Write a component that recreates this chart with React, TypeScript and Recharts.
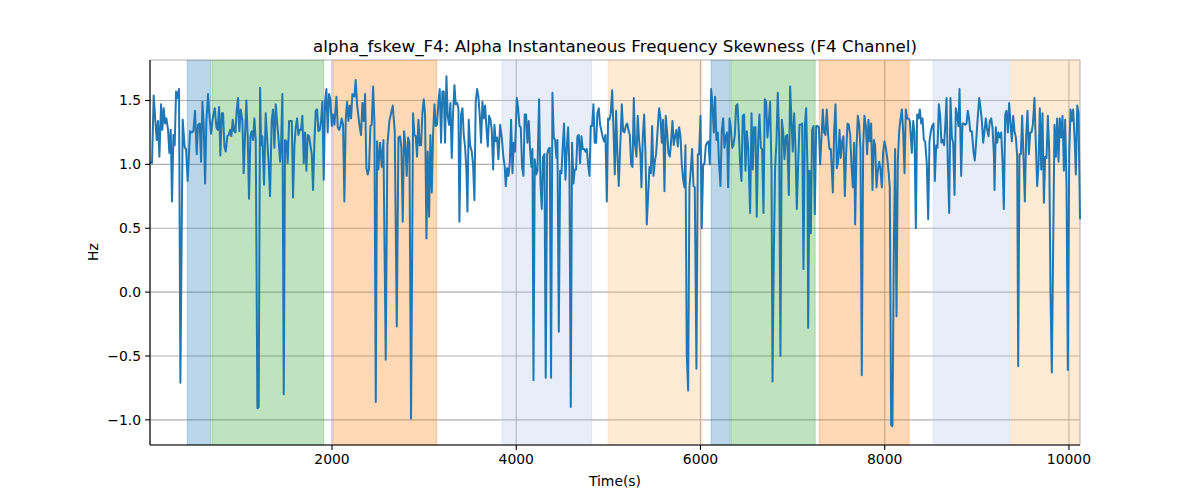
import React from 'react';
import { LineChart, Line, XAxis, YAxis, CartesianGrid, ReferenceArea } from 'recharts';

// [time (s), skewness (Hz)], split by stretch of time
const seg1: [number, number][] = [
  [24, 1.02], [46, 1.01], [64, 1.54], [82, 1.34], [97, 1.19], [111, 1.34], [126, 1.06], [144, 1.47], [158, 1.27], [173, 1.44],
  [187, 1.32], [202, 1.36], [220, 1.27], [234, 1.09], [249, 1.27], [263, 0.71], [278, 1.23], [292, 1.15], [307, 1.57], [321, 1.52],
  [339, 1.59], [354, -0.71], [379, 1.35], [401, 1.13], [415, 1.12], [433, 0.87], [459, 1.26], [477, 1.25], [495, 1.26], [513, 1.42],
  [531, 1.08], [546, 1.31], [564, 1.32], [578, 1.02], [593, 1.49], [607, 1.31], [622, 0.85], [636, 1.34], [654, 1.55], [669, 1.38],
  [687, 1.24], [705, 1.36], [727, 1.44], [745, 1.29], [759, 1.27], [774, 1.45], [788, 1.07], [803, 1.40], [817, 1.40], [832, 1.14],
  [846, 1.10], [864, 1.22], [879, 1.23], [893, 1.27], [908, 1.22], [922, 1.35], [937, 1.26], [951, 1.25], [965, 1.42], [980, 1.52],
  [994, 1.26], [1009, 1.43], [1027, 1.34], [1041, 0.93], [1056, 1.23], [1070, 1.50], [1085, 1.21], [1099, 0.73], [1114, 1.22], [1128, 1.26],
  [1143, 1.19], [1157, 1.36], [1172, 1.19], [1190, -0.91], [1204, -0.90], [1219, 1.60],
];

const seg2: [number, number][] = [
  [1230, 1.15], [1244, 1.22], [1262, 0.84], [1280, 1.40], [1298, 1.17], [1313, 1.00], [1327, 0.75], [1345, 1.34], [1360, 1.43], [1374, 1.13],
  [1389, 1.47], [1407, 1.30], [1421, 1.19], [1436, 1.02], [1447, 1.15], [1461, 1.55], [1476, -0.80], [1490, 1.19], [1505, 1.18], [1519, 1.01],
  [1534, 1.34], [1548, 1.34], [1563, 1.34], [1577, 0.74], [1592, 1.15], [1606, 1.29], [1621, 1.36], [1635, 1.23], [1649, 1.27], [1664, 1.27],
  [1678, 1.38], [1693, 1.01], [1707, 1.25], [1722, 0.95], [1736, 1.23], [1751, 1.22], [1765, 1.15], [1780, 1.08], [1794, 0.80], [1809, 1.18],
  [1823, 1.42], [1838, 1.43], [1852, 1.26], [1867, 1.27], [1881, 1.34], [1896, 1.49], [1910, 0.88], [1925, 1.49], [1939, 1.59], [1953, 1.25],
  [1968, 1.55], [1982, 1.51], [1997, 1.30], [2011, 1.39], [2026, 1.31], [2048, 1.53], [2062, 1.29], [2077, 1.27], [2091, 1.30], [2105, 1.36],
  [2120, 1.31], [2134, 0.71], [2149, 1.35], [2163, 1.49], [2178, 1.34], [2192, 1.46], [2207, 1.36], [2221, 1.55], [2243, 1.53], [2257, 1.66],
  [2272, 1.47], [2286, 1.38], [2301, 1.29], [2315, 1.23], [2330, 1.48], [2344, 1.34], [2359, 1.55], [2373, 0.97], [2388, 0.92], [2402, 0.97],
  [2417, 1.30], [2431, 1.31], [2446, 1.61], [2460, 1.34], [2475, -0.86], [2489, 1.18], [2503, 0.96],
];

const seg3: [number, number][] = [
  [2522, 1.17], [2540, 0.98], [2558, 1.19], [2583, -0.53], [2601, 1.15], [2623, 1.34], [2659, 1.46], [2681, 1.26], [2703, -0.27], [2721, 1.21],
  [2739, 1.22], [2753, 1.13], [2768, 0.55], [2782, 1.26], [2797, 1.15], [2811, 0.91], [2826, 1.21], [2840, 1.17], [2858, -0.99], [2880, 1.40],
  [2894, 1.23], [2909, 1.22], [2923, 1.06], [2938, 1.35], [2952, 1.15], [2967, 1.15], [2981, 1.40], [2996, 1.51], [3010, 1.39], [3025, 0.42],
  [3039, 1.10], [3054, 0.59], [3068, 1.23], [3083, 0.78], [3097, 1.23], [3112, 1.47], [3126, 1.30], [3140, 1.31], [3155, 1.49], [3169, 1.59],
  [3184, 1.17], [3198, 1.57], [3213, 1.57], [3227, 1.17], [3242, 1.69], [3256, 1.38], [3271, 1.31], [3285, 1.48], [3300, 1.05], [3314, 1.40],
  [3329, 1.62], [3343, 1.47], [3358, 1.48], [3372, 1.44], [3383, 0.55], [3401, 1.39], [3416, 1.44], [3430, 1.23], [3445, 1.13], [3459, 0.95],
  [3470, 0.63], [3484, 1.35], [3499, 1.15], [3517, 1.10], [3531, 1.00], [3546, 0.72], [3560, 1.49], [3575, 1.59], [3589, 1.53], [3604, 1.38],
  [3618, 1.17], [3633, 1.49], [3647, 1.36], [3662, 1.46], [3676, 1.29], [3691, 1.14], [3705, 1.38], [3720, 1.35], [3734, 1.27], [3749, 0.96],
  [3763, 1.31], [3777, 1.18], [3792, 1.21], [3806, 1.04],
];

const seg4: [number, number][] = [
  [3825, 1.31], [3843, 1.21], [3861, 1.05], [3875, 0.98], [3886, 0.83], [3901, 0.97], [3915, 0.91], [3930, 1.01], [3944, 1.35], [3959, 0.93],
  [3973, 1.17], [3987, 1.10], [4006, 1.52], [4020, 1.44], [4035, 1.30], [4049, 1.29], [4063, 0.98], [4078, 0.91], [4092, 1.39], [4107, 1.39],
  [4121, 1.17], [4136, 1.34], [4150, 1.12], [4165, 0.98], [4176, 1.12], [4187, -0.69], [4201, 1.04], [4215, 0.92], [4230, 0.95], [4248, 1.51],
  [4263, 0.85], [4277, 0.65], [4291, 1.06], [4306, 1.08], [4320, -0.67], [4335, 1.08], [4349, 1.12], [4364, 1.13], [4378, -0.67], [4393, 1.56],
  [4407, 1.21], [4422, 1.19], [4436, 1.05], [4447, 1.19], [4462, -0.31], [4476, 0.95], [4491, 0.93], [4505, 1.15], [4519, 1.32], [4534, 0.88],
  [4548, 1.12], [4563, 1.29], [4577, 0.97], [4592, -0.90], [4606, 1.17], [4621, 0.85], [4635, 0.96], [4650, 0.96], [4664, 1.22], [4679, 1.23],
  [4693, 1.01], [4708, 1.22], [4722, 1.12], [4737, 1.12], [4751, 1.10], [4766, 1.12], [4780, 1.00], [4795, 0.91], [4809, 1.30], [4823, 1.30],
  [4838, 1.47], [4852, 1.17], [4867, 1.17], [4881, 1.40], [4896, 1.44], [4910, 1.31], [4925, 1.26], [4939, 1.21], [4954, 1.18], [4968, 1.23],
  [4983, 0.71], [4997, 1.36], [5012, 1.35], [5026, 1.40], [5041, 1.58], [5055, 1.29], [5070, 0.92], [5084, 1.42], [5098, 1.08], [5113, 0.83],
];

const seg5: [number, number][] = [
  [5146, 1.47], [5160, 1.26], [5175, 1.25], [5189, 1.30], [5204, 1.32], [5218, 1.27], [5233, 1.23], [5247, 1.00], [5262, 0.98], [5276, 1.52],
  [5290, 1.15], [5305, 1.06], [5319, 1.38], [5334, 1.18], [5348, 1.08], [5359, 0.82], [5374, 1.22], [5388, 1.39], [5403, 1.08], [5417, 0.53],
  [5432, 0.76], [5446, 0.98], [5461, 0.93], [5475, 1.30], [5490, 0.91], [5504, 1.02], [5518, 1.08], [5533, 1.25], [5551, 1.44], [5566, 1.36],
  [5580, 1.17], [5594, 1.35], [5609, 0.79], [5623, 1.38], [5638, 1.25], [5652, 1.09], [5667, 1.06], [5681, 1.18], [5696, 1.34], [5710, 1.15],
  [5725, 1.22], [5739, 1.27], [5754, 1.14], [5768, 1.29], [5783, 1.22], [5797, 1.00], [5812, 0.88], [5826, 0.82], [5837, 1.15], [5851, -0.49],
  [5866, -0.77], [5880, 0.82], [5895, 0.96], [5909, 1.12], [5924, 0.83], [5938, 0.82], [5956, -0.60], [5971, 1.08], [5985, 1.08], [6000, 1.38],
  [6014, 0.50], [6029, 1.00], [6043, 1.00], [6058, 1.15], [6072, 1.17], [6087, 1.18], [6101, 1.00], [6116, 1.59], [6130, 1.47], [6145, 1.25],
  [6159, 1.53], [6173, 1.19], [6188, 1.25], [6202, 1.00], [6217, 0.83], [6231, 1.26], [6246, 1.36], [6260, 1.13], [6275, 1.22], [6289, 1.25],
  [6300, 0.82], [6315, 1.36], [6329, 1.29], [6344, 1.13], [6358, 1.15], [6373, 1.23], [6387, 1.46], [6401, 1.47], [6416, 1.25],
];

const seg6: [number, number][] = [
  [6431, 1.00], [6445, 0.87], [6459, 1.38], [6474, 1.39], [6488, 0.95], [6503, 1.26], [6517, 1.14], [6539, 0.62], [6554, 1.40], [6568, 0.96],
  [6582, 1.29], [6597, 1.29], [6611, 0.59], [6626, 1.18], [6640, 1.39], [6655, 1.13], [6669, 1.12], [6684, 0.62], [6698, 1.51], [6713, 1.49],
  [6727, 1.21], [6742, 1.34], [6756, 1.49], [6771, 0.95], [6782, -0.70], [6796, 0.29], [6810, 0.97], [6825, 1.18], [6839, 1.56], [6854, 1.21],
  [6868, -0.50], [6883, 1.35], [6897, 1.26], [6912, 1.04], [6926, 1.22], [6941, 1.23], [6959, 0.76], [6973, 1.61], [6988, 1.34], [7002, 1.10],
  [7017, 1.40], [7031, 1.13], [7046, 0.65], [7060, 1.00], [7075, 1.31], [7089, 1.31], [7104, 1.32], [7118, 0.18], [7133, 1.30], [7147, 1.44],
  [7162, 0.95], [7169, -0.28], [7183, 0.95], [7198, 0.46], [7212, 1.27], [7227, 1.30], [7241, 0.61], [7256, 1.30], [7270, 1.30], [7285, 1.29],
  [7299, 1.00], [7314, 1.21], [7328, 1.43], [7342, 1.25], [7357, 1.23], [7371, 1.43], [7386, 1.23], [7400, 1.12], [7415, 1.12], [7437, 0.78],
  [7451, 1.26], [7466, 1.47], [7480, 0.97], [7494, 1.02], [7509, 1.27], [7523, 1.05], [7538, 1.18], [7552, 1.22], [7567, 0.75], [7581, 1.08],
  [7596, 1.32], [7610, 1.31], [7625, 1.23], [7639, 1.00], [7654, 0.82], [7668, 1.17], [7679, 0.53], [7694, 1.13], [7708, 1.38], [7722, 1.32],
  [7737, 1.12],
];

const seg7: [number, number][] = [
  [7751, -0.65], [7766, 1.15], [7780, 1.38], [7795, 1.30], [7809, 1.08], [7824, 1.35], [7838, 1.18], [7853, 1.32], [7867, 0.80], [7882, 1.19],
  [7896, 1.15], [7911, 0.82], [7925, 0.95], [7940, 1.02], [7954, 0.96], [7969, 0.82], [7983, 1.10], [7998, 1.18], [8012, 1.13], [8027, 1.05],
  [8041, 0.95], [8055, 0.82], [8070, -1.04], [8084, -1.05], [8099, 0.32], [8113, 1.12], [8128, -0.19], [8142, 1.02], [8157, 1.26], [8171, 1.35],
  [8186, 1.43], [8200, 1.26], [8215, 0.93], [8229, 1.43], [8244, 1.36], [8258, 1.36], [8273, 1.34], [8294, 1.09], [8309, 1.34], [8323, 1.25],
  [8338, 0.50], [8352, 1.39], [8367, 1.36], [8381, 1.43], [8396, 1.32], [8410, 1.36], [8425, 1.19], [8439, 1.18], [8457, 1.00], [8472, 0.57],
  [8486, 1.18], [8501, 1.26], [8515, 1.30], [8530, 1.32], [8544, 0.87], [8559, 1.15], [8573, 1.13], [8588, 1.47], [8602, 1.38], [8616, 1.17],
  [8631, 1.19], [8645, 1.15], [8660, 1.34], [8671, 1.52], [8685, 1.00], [8700, 0.62], [8714, 1.52], [8729, 1.21], [8743, 1.17], [8758, 0.76],
  [8772, 1.44], [8787, 1.38], [8801, 1.30], [8812, 1.59], [8830, 0.91], [8844, 1.32], [8859, 1.32], [8873, 1.31], [8888, 1.32], [8902, 1.42],
  [8917, 1.35],
];

const seg8: [number, number][] = [
  [8928, 1.26], [8946, 1.26], [8964, 1.10], [8978, 1.03], [8993, 1.18], [9007, 1.34], [9026, 1.52], [9040, 1.44], [9054, 1.35], [9069, 1.17],
  [9083, 1.26], [9098, 1.36], [9112, 1.27], [9127, 1.22], [9141, 1.34], [9156, 1.36], [9170, 1.29], [9185, 1.08], [9192, 0.80], [9206, 1.29],
  [9221, 1.17], [9235, 1.25], [9250, 1.21], [9264, 1.25], [9279, 1.02], [9293, 0.65], [9308, 1.39], [9322, 1.42], [9337, 1.25], [9351, 1.48],
  [9366, 1.32], [9380, 1.18], [9395, 1.38], [9409, 1.26], [9424, 1.21], [9438, 1.06], [9449, -0.58], [9463, 1.08], [9478, 1.08], [9492, 1.38],
  [9507, 1.05], [9521, 0.71], [9536, 1.23], [9550, 1.42], [9565, 1.08], [9579, 1.25], [9594, 1.25], [9608, 1.31], [9626, 1.52], [9641, 1.15],
  [9655, 0.83], [9670, 1.00], [9684, 1.44], [9699, 0.96], [9713, 1.40], [9728, 0.70], [9742, 1.06], [9757, 1.05], [9771, 1.38], [9786, 1.10],
  [9800, -0.02], [9814, -0.63], [9829, 0.37], [9843, 1.31], [9858, 1.06], [9872, 1.36], [9887, 1.02], [9901, 1.36], [9916, 1.21], [9930, 1.38],
  [9945, 0.95], [9959, 1.35], [9974, 0.82], [9988, -0.61], [10003, 1.08], [10017, 1.43], [10032, 1.34], [10046, 1.43], [10061, 1.21], [10075, 0.92],
  [10090, 1.46], [10104, 1.40], [10120, 0.57],
];

// shaded state intervals (s)
const spanStarts = [429, 698, 2015, 3846, 4997, 6116, 6333, 7289, 8526, 9370];
const spanEnds = [683, 1910, 3137, 4820, 6014, 6322, 7245, 8265, 9355, 10120];
const spanKinds = ['blue', 'green', 'orange', 'lightBlue', 'lightOrange', 'blue', 'green', 'orange', 'lightBlue', 'lightOrange'];

const xTicks = [2000, 4000, 6000, 8000, 10000];
const yTicks = [-1.0, -0.5, 0.0, 0.5, 1.0, 1.5];

const spanColors: Record<string, string> = {
  blue: '#1f77b4',
  green: '#2ca02c',
  orange: '#ff7f0e',
  lightBlue: '#aec7e8',
  lightOrange: '#ffbb78',
};

const data = [...seg1, ...seg2, ...seg3, ...seg4, ...seg5, ...seg6, ...seg7, ...seg8].map(([t, v]) => ({ t, v }));

const FONT = 'DejaVu Sans, sans-serif';
const tickStyle = { fill: '#000', fontSize: 13.9, fontFamily: FONT };
const fmtY = (v: number) => v.toFixed(1).replace('-', '\u2212');
const yDomain: [number, number] = [-1.197, 1.817];

const App: React.FC = () => {
  return (
    <div style={{ position: 'absolute', left: 0, top: 0, width: 1200, height: 500, background: '#fff' }}>
      <LineChart width={1200} height={500} data={data} margin={{ top: 60, right: 120, bottom: 0, left: 0 }}>
        <CartesianGrid stroke="#b0b0b0" strokeWidth={1.1} />
        {spanStarts.map((s, i) => (
          <ReferenceArea
            key={i}
            x1={s}
            x2={spanEnds[i]}
            ifOverflow="hidden"
            fill={spanColors[spanKinds[i]]}
            fillOpacity={0.3}
            stroke={spanColors[spanKinds[i]]}
            strokeOpacity={0.3}
            strokeWidth={1}
          />
        ))}
        <XAxis
          dataKey="t"
          type="number"
          domain={['dataMin', 'dataMax']}
          ticks={xTicks}
          height={55}
          tickSize={4.9}
          tickMargin={4}
          tick={tickStyle}
          tickLine={{ stroke: '#000', strokeWidth: 1.1 }}
          axisLine={{ stroke: '#000', strokeWidth: 1.1 }}
        />
        <XAxis
          xAxisId="top"
          orientation="top"
          dataKey="t"
          type="number"
          domain={['dataMin', 'dataMax']}
          height={0}
          tick={false}
          tickLine={false}
          axisLine={{ stroke: '#000', strokeWidth: 1.1 }}
        />
        <YAxis
          type="number"
          domain={yDomain}
          ticks={yTicks}
          width={150}
          tickSize={4.9}
          tickMargin={4}
          tickFormatter={fmtY}
          tick={tickStyle}
          tickLine={{ stroke: '#000', strokeWidth: 1.1 }}
          axisLine={{ stroke: '#000', strokeWidth: 1.1 }}
        />
        <YAxis
          yAxisId="right"
          orientation="right"
          type="number"
          domain={yDomain}
          width={0}
          tick={false}
          tickLine={false}
          axisLine={{ stroke: '#000', strokeWidth: 1.1 }}
        />
        <Line
          type="linear"
          dataKey="v"
          stroke="#1f77b4"
          strokeWidth={2}
          strokeLinejoin="round"
          dot={false}
          activeDot={false}
          isAnimationActive={false}
        />
      </LineChart>
      <svg width={1200} height={500} style={{ position: 'absolute', left: 0, top: 0, pointerEvents: 'none' }}>
        <text x={615} y={52} textAnchor="middle" fontSize={16.7} fontFamily={FONT} fill="#000">
          alpha_fskew_F4: Alpha Instantaneous Frequency Skewness (F4 Channel)
        </text>
        <text x={615} y={486} textAnchor="middle" fontSize={13.9} fontFamily={FONT} fill="#000">
          Time(s)
        </text>
        <text x={98} y={252} textAnchor="middle" fontSize={13.9} fontFamily={FONT} fill="#000" transform="rotate(-90 98 252)">
          Hz
        </text>
      </svg>
    </div>
  );
};

export default App;
